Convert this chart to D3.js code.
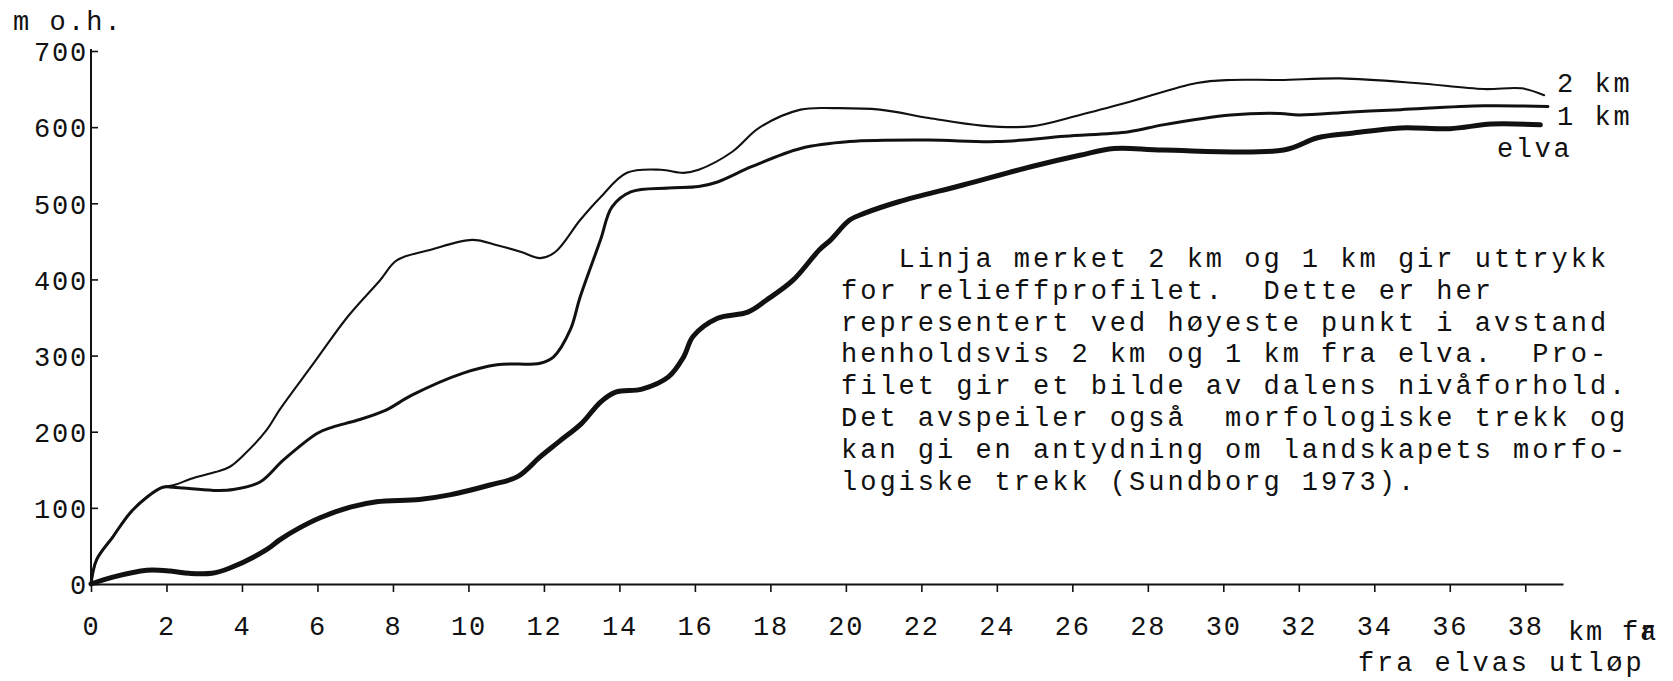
<!DOCTYPE html>
<html>
<head>
<meta charset="utf-8">
<script src="https://cdn.jsdelivr.net/npm/d3@7"></script>
<style>
  body { margin: 0; background: #fff; }
  svg text { font-family: 'Liberation Mono', 'Courier New', monospace; fill: #111; white-space: pre; }
</style>
</head>
<body>
<div id="chart"></div>
<script>
// distance from river mouth (km) and height (m o.h.)
const kmElva = [0, 0.58, 1.48, 2.1, 2.6, 3.2, 3.68, 4.65, 5.0, 5.5, 6.07, 6.87, 7.57, 8.7, 9.5, 10.57, 11.3, 11.9, 12.4, 13.0, 13.5, 13.9, 14.6, 15.3, 15.7, 15.95, 16.6, 17.4, 17.9, 18.6, 19.3, 19.6, 20.1, 20.5, 21.4, 23.1, 24.9, 26.2, 27.1, 28.4, 31.6, 32.5, 33.4, 34.7, 36.0, 37.1, 38.4];
const mElva = [0, 9, 18, 17, 14, 14, 21, 45, 58, 73, 87, 101, 108, 111, 117, 130, 141, 167, 187, 211, 239, 252, 256, 272, 298, 325, 349, 357, 373, 399, 439, 452, 478, 487, 502, 524, 548, 563, 572, 570, 570, 586, 592, 599, 598, 604, 603];

const km1 = [0, 0.15, 0.58, 1.03, 1.48, 1.9, 2.17, 2.45, 3.2, 3.77, 4.48, 5.1, 6.0, 6.4, 7.05, 7.8, 8.5, 9.86, 10.76, 11.9, 12.25, 12.7, 12.96, 13.5, 13.8, 14.3, 15.3, 16.1, 16.6, 17.5, 18.8, 20.1, 22.2, 24.0, 25.8, 27.5, 28.4, 30.2, 31.5, 32.0, 33.4, 34.7, 36.9, 38.6];
const m1 = [0, 32, 62, 93, 114, 127, 127, 126, 123, 124, 134, 163, 198, 206, 215, 228, 248, 277, 288, 290, 298, 334, 377, 452, 495, 515, 520, 522, 528, 548, 572, 581, 583, 581, 588, 594, 603, 616, 618, 616, 620, 623, 628, 627];

const km2 = [0, 0.15, 0.58, 1.03, 1.48, 1.9, 2.2, 2.7, 3.3, 3.68, 4.1, 4.65, 5.0, 5.9, 6.8, 7.66, 8.1, 9.0, 10.1, 10.76, 11.4, 11.9, 12.3, 12.96, 13.5, 14.2, 15.1, 15.7, 16.1, 17.0, 17.7, 18.8, 19.7, 20.9, 22.2, 23.6, 24.9, 26.2, 27.5, 29.3, 30.2, 31.5, 33.1, 35.1, 36.9, 37.9, 38.5];
const m2 = [0, 32, 62, 93, 114, 127, 130, 139, 147, 154, 172, 202, 229, 290, 351, 399, 425, 439, 452, 445, 436, 428, 436, 478, 508, 540, 544, 540, 544, 568, 599, 623, 625, 623, 612, 602, 601, 616, 633, 658, 662, 662, 664, 658, 650, 651, 642];

const xTicks = d3.range(0, 39, 2);
const yTicks = [0, 100, 200, 300, 400, 500, 600, 700];

const note = [
  '   Linja merket 2 km og 1 km gir uttrykk',
  'for relieffprofilet.  Dette er her',
  'representert ved høyeste punkt i avstand',
  'henholdsvis 2 km og 1 km fra elva.  Pro-',
  'filet gir et bilde av dalens nivåforhold.',
  'Det avspeiler også  morfologiske trekk og',
  'kan gi en antydning om landskapets morfo-',
  'logiske trekk (Sundborg 1973).'
];

const series = [
  { name: '2 km', km: km2, m: m2, width: 2.1 },
  { name: '1 km', km: km1, m: m1, width: 3 },
  { name: 'elva', km: kmElva, m: mElva, width: 5 }
];

const width = 1673;
const height = 681;

// typewriter look: small glyphs on a wide pitch
const fontSize = 27;
const pitch = 19.2;
const tickPitch = 18;

const svg = d3.select('#chart')
  .append('svg')
  .attr('width', width)
  .attr('height', height)
  .attr('viewBox', [0, 0, width, height]);

const x = d3.scaleLinear().domain([0, 39]).range([91, 1563]);
const y = d3.scaleLinear().domain([0, 700]).range([584, 51]);

// x axis
const xAxis = svg.append('g')
  .attr('transform', `translate(0,${y(0)})`)
  .call(d3.axisBottom(x)
    .tickValues(xTicks)
    .tickFormat(d3.format('d'))
    .tickSizeInner(8)
    .tickSizeOuter(0));

xAxis.select('.domain').attr('stroke', '#111').attr('stroke-width', 2);
xAxis.selectAll('.tick line').attr('stroke', '#111').attr('stroke-width', 1.6);
xAxis.selectAll('.tick text')
  .attr('font-size', fontSize)
  .attr('letter-spacing', tickPitch - fontSize * 0.6)
  .attr('fill', '#111')
  .attr('y', 51)
  .attr('dy', 0);

// y axis, ticks pointing inward
const yAxis = svg.append('g')
  .attr('transform', `translate(${x(0)},0)`)
  .call(d3.axisLeft(y)
    .tickValues(yTicks)
    .tickFormat(d3.format('d'))
    .tickSizeInner(-7)
    .tickSizeOuter(0)
    .tickPadding(3));

yAxis.select('.domain')
  .attr('d', `M0,${y(0)}V${y(700) - 2}`)
  .attr('stroke', '#111')
  .attr('stroke-width', 2);
yAxis.selectAll('.tick line').attr('stroke', '#111').attr('stroke-width', 1.6);
yAxis.selectAll('.tick text')
  .attr('font-size', fontSize)
  .attr('letter-spacing', tickPitch - fontSize * 0.6)
  .attr('fill', '#111')
  .attr('dy', '0.36em');

// profile lines
const line = d3.line()
  .x(d => x(d[0]))
  .y(d => y(d[1]))
  .curve(d3.curveCatmullRom.alpha(0.5));

svg.append('g')
  .selectAll('path')
  .data(series)
  .join('path')
  .attr('fill', 'none')
  .attr('stroke', '#111')
  .attr('stroke-linecap', 'round')
  .attr('stroke-linejoin', 'round')
  .attr('stroke-width', d => d.width)
  .attr('d', d => line(d.km.map((k, i) => [k, d.m[i]])));

// line labels at the right end
const labelPos = {
  '2 km': [1557, 92],
  '1 km': [1557, 125],
  'elva': [1497, 157]
};

svg.append('g')
  .selectAll('text')
  .data(series)
  .join('text')
  .attr('x', d => labelPos[d.name][0])
  .attr('y', d => labelPos[d.name][1])
  .attr('font-size', fontSize)
  .attr('letter-spacing', 18.8 - fontSize * 0.6)
  .text(d => d.name);

// axis titles
svg.append('text')
  .attr('x', 13)
  .attr('y', 30)
  .attr('font-size', fontSize)
  .attr('letter-spacing', 18.3 - fontSize * 0.6)
  .text('m o.h.');

// "fr" with an "a" typed over the "r"
const unit = svg.append('text')
  .attr('x', 1568)
  .attr('y', 640)
  .attr('font-size', fontSize)
  .attr('letter-spacing', tickPitch - fontSize * 0.6)
  .text('km fr');

unit.append('tspan')
  .attr('dx', -tickPitch)
  .text('a');

svg.append('text')
  .attr('x', 1358)
  .attr('y', 671)
  .attr('font-size', fontSize)
  .attr('letter-spacing', 19.1 - fontSize * 0.6)
  .text('fra elvas utløp');

// explanatory note
svg.append('g')
  .selectAll('text')
  .data(note)
  .join('text')
  .attr('x', 841)
  .attr('y', (d, i) => 267 + i * 31.8)
  .attr('font-size', fontSize)
  .attr('letter-spacing', pitch - fontSize * 0.6)
  .text(d => d);
</script>
</body>
</html>
